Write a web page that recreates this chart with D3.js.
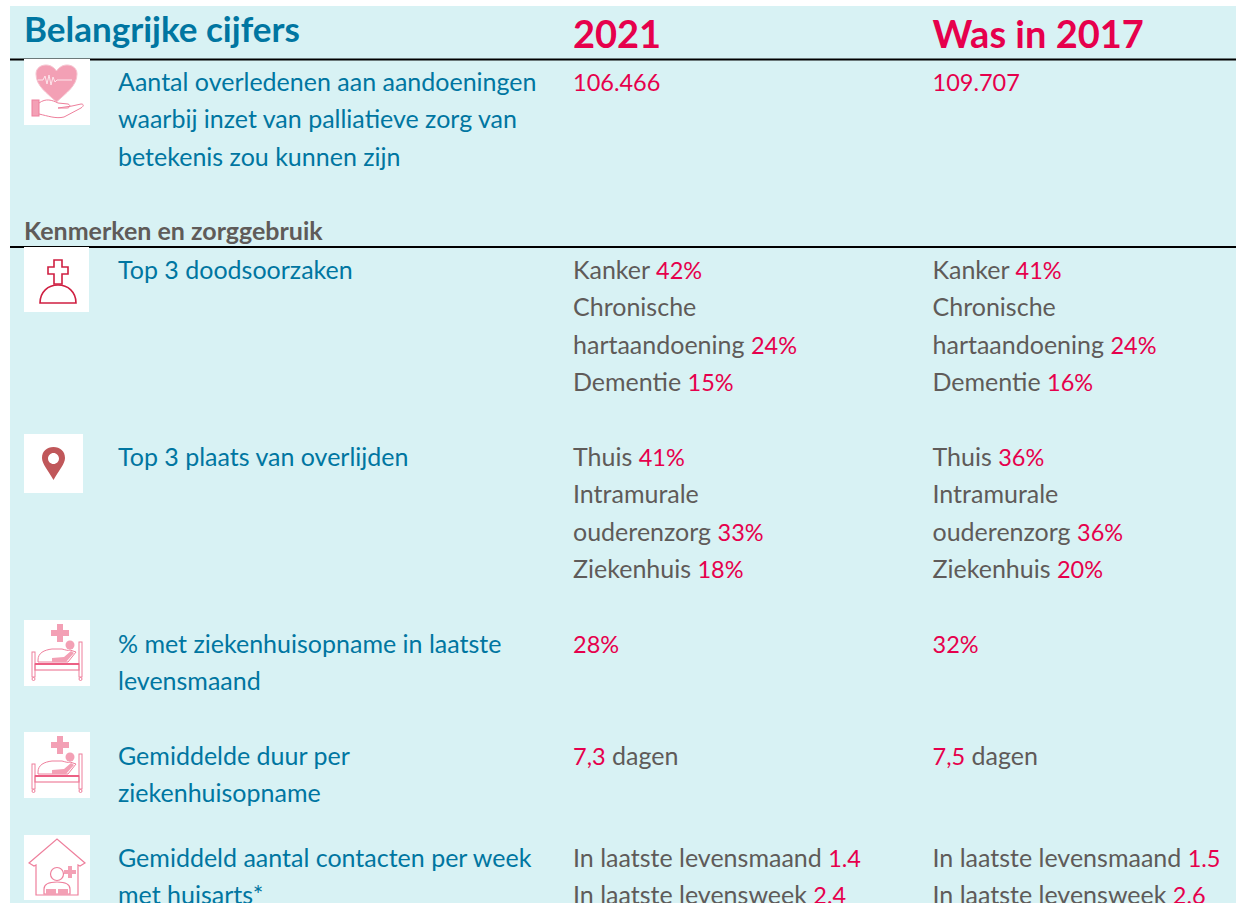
<!DOCTYPE html>
<meta charset="utf-8">
<style>
html, body { margin: 0; padding: 0; background: #fff; overflow: hidden; }
svg { display: block; }
text { font-family: Lato, "Open Sans", sans-serif; font-kerning: normal; }
</style>
<svg></svg>
<script src="https://cdn.jsdelivr.net/npm/d3@7"></script>
<script>

var width = 1236,
    height = 903;

var headers = ["Belangrijke cijfers", "2021", "Was in 2017"];
var subHeader = "Kenmerken en zorggebruik";

var rowLabels = [
  ["Aantal overledenen aan aandoeningen", "waarbij inzet van palliatieve zorg van", "betekenis zou kunnen zijn"],
  ["Top 3 doodsoorzaken"],
  ["Top 3 plaats van overlijden"],
  ["% met ziekenhuisopname in laatste", "levensmaand"],
  ["Gemiddelde duur per", "ziekenhuisopname"],
  ["Gemiddeld aantal contacten per week", "met huisarts*"]
];

// every line is a list of pieces: even pieces are grey, odd pieces are red
var values2021 = [
  [["", "106.466"]],
  [["Kanker ", "42%"], ["Chronische"], ["hartaandoening ", "24%"], ["Dementie ", "15%"]],
  [["Thuis ", "41%"], ["Intramurale"], ["ouderenzorg ", "33%"], ["Ziekenhuis ", "18%"]],
  [["", "28%"]],
  [["", "7,3", " dagen"]],
  [["In laatste levensmaand ", "1.4"], ["In laatste levensweek ", "2.4"]]
];

var values2017 = [
  [["", "109.707"]],
  [["Kanker ", "41%"], ["Chronische"], ["hartaandoening ", "24%"], ["Dementie ", "16%"]],
  [["Thuis ", "36%"], ["Intramurale"], ["ouderenzorg ", "36%"], ["Ziekenhuis ", "20%"]],
  [["", "32%"]],
  [["", "7,5", " dagen"]],
  [["In laatste levensmaand ", "1.5"], ["In laatste levensweek ", "2.6"]]
];

var iconNames = ["heart", "grave", "pin", "bed", "bed", "home"];

// layout
var rowBaselines = [91, 279, 466, 653, 765, 867];
var iconBoxes = [[24, 59, 66, 66], [24, 247, 65, 65], [24, 434, 59, 59], [24, 620, 66, 66], [24, 732, 66, 66], [24, 835, 66, 65]];
var lineStep = 37.3;
var colX = { label: 118, y2021: 573, y2017: 932.5 };

var teal = "#0076a1",
    red = "#e6004c",
    grey = "#5f5b59",
    panel = "#d8f2f4";

var lineY = d3.scaleLinear().domain([0, 1]).range([0, lineStep]);

var svg = d3.select("svg")
    .attr("width", width)
    .attr("height", height);

svg.append("rect")
    .attr("x", 10).attr("y", 6)
    .attr("width", width - 10).attr("height", height - 6)
    .attr("fill", panel);

// header
svg.selectAll("text.head")
    .data(headers)
    .enter().append("text")
    .attr("class", "head")
    .attr("x", function(d, i) { return [24, colX.y2021, colX.y2017][i]; })
    .attr("y", function(d, i) { return i ? 48 : 42; })
    .attr("font-weight", 700)
    .attr("font-size", function(d, i) { return i ? 38 : 35; })
    .attr("fill", function(d, i) { return i ? red : teal; })
    .text(function(d) { return d; });

svg.append("text")
    .attr("x", 24).attr("y", 240)
    .attr("font-weight", 700)
    .attr("font-size", 25)
    .attr("fill", grey)
    .text(subHeader);

svg.selectAll("line.rule")
    .data([59.5, 247])
    .enter().append("line")
    .attr("class", "rule")
    .attr("x1", 10).attr("x2", width)
    .attr("y1", function(d) { return d; })
    .attr("y2", function(d) { return d; })
    .attr("stroke", "#000")
    .attr("stroke-width", 1.8);

// row labels
var labels = svg.append("g").selectAll("g")
    .data(rowLabels)
    .enter().append("g")
    .attr("transform", function(d, i) { return "translate(" + colX.label + "," + rowBaselines[i] + ")"; });

labels.selectAll("text")
    .data(function(d) { return d; })
    .enter().append("text")
    .attr("y", function(d, i) { return lineY(i); })
    .attr("font-size", 25)
    .attr("fill", teal)
    .text(function(d) { return d; });

// value columns
function drawColumn(values, x) {
  var rows = svg.append("g").selectAll("g")
      .data(values)
      .enter().append("g")
      .attr("transform", function(d, i) { return "translate(" + x + "," + rowBaselines[i] + ")"; });

  rows.selectAll("text")
      .data(function(d) { return d; })
      .enter().append("text")
      .attr("y", function(d, i) { return lineY(i); })
      .attr("font-size", 25)
      .attr("xml:space", "preserve")
      .style("white-space", "pre")
      .selectAll("tspan")
      .data(function(d) { return d; })
      .enter().append("tspan")
      .attr("fill", function(d, i) { return i % 2 ? red : grey; })
      .attr("font-size", function(d, i) { return i % 2 ? 23.5 : 25; })
      .text(function(d) { return d; });
}

drawColumn(values2021, colX.y2021);
drawColumn(values2017, colX.y2017);

// icons, drawn on a 66 by 66 grid
var pink = "#ee7f9c",
    pinkFill = "#f3a0b5",
    deep = "#cf1f41",
    pinRed = "#c0575a";

var iconDraw = {
  heart: function(g) {
    g.append("path").attr("d", "M32.5 43C23 34 12 27 12 15C12 9 17 6 22 6C27 6 30.5 9 32.5 12C34.5 9 38 6 43 6C48 6 53 9 53 15C53 27 42 34 32.5 43Z")
        .attr("fill", pinkFill).attr("stroke", "#f6c4d0").attr("stroke-width", 1);
    g.append("polyline").attr("points", "14,21 19,21 21,17 23,25 25,16 27,26 29,18 31,23 33,21 48,21")
        .attr("fill", "none").attr("stroke", "#fde6ec").attr("stroke-width", 1);
    g.append("rect").attr("x", 8).attr("y", 41).attr("width", 7).attr("height", 16)
        .attr("fill", pinkFill).attr("stroke", pink);
    g.append("path").attr("d", "M15 44C22 39 28 41 34 44L44 45C47 46 46 49 43 49L34 49L48 47L57 45C60 45 60 47 57 49L40 58C32 60 24 57 15 55")
        .attr("fill", "none").attr("stroke", pink).attr("stroke-width", 1);
  },
  grave: function(g) {
    g.append("path").attr("d", "M30 13H38V20H44V27H38V37H30V27H24V20H30Z")
        .attr("fill", "none").attr("stroke", deep).attr("stroke-width", 1.6);
    g.append("path").attr("d", "M16 56C16 45 24 38 34 38C44 38 52 45 52 56Z")
        .attr("fill", "none").attr("stroke", deep).attr("stroke-width", 1.6);
  },
  pin: function(g) {
    g.append("path").attr("fill-rule", "evenodd")
        .attr("d", "M29.5 46C24 36 18 30 18 24C18 17 23 13 29.5 13C36 13 41 17 41 24C41 30 35 36 29.5 46ZM29.5 19C26.5 19 24 21.5 24 24.5C24 27.5 26.5 30 29.5 30C32.5 30 35 27.5 35 24.5C35 21.5 32.5 19 29.5 19Z")
        .attr("fill", pinRed);
  },
  bed: function(g) {
    g.append("path").attr("d", "M27 10H33V4H39V10H45V16H39V22H33V16H27Z").attr("fill", pinkFill);
    g.append("circle").attr("cx", 46).attr("cy", 25).attr("r", 4.5).attr("fill", pinkFill);
    g.append("path").attr("d", "M14 40C14 33 20 30 28 29L38 29C42 30 44 31 46 30L52 32L44 42H14Z")
        .attr("fill", "none").attr("stroke", pink).attr("stroke-width", 1);
    g.append("path").attr("d", "M28 38L40 37L47 31L50 33L42 42L28 42Z").attr("fill", pinkFill);
    g.append("rect").attr("x", 8).attr("y", 32).attr("width", 3).attr("height", 25)
        .attr("fill", "none").attr("stroke", pink).attr("stroke-width", 1);
    g.append("rect").attr("x", 55).attr("y", 22).attr("width", 3).attr("height", 35)
        .attr("fill", "none").attr("stroke", pink).attr("stroke-width", 1);
    g.append("rect").attr("x", 11).attr("y", 44).attr("width", 44).attr("height", 6)
        .attr("fill", "none").attr("stroke", pink).attr("stroke-width", 1.2);
    g.append("line").attr("x1", 11).attr("x2", 55).attr("y1", 44).attr("y2", 44)
        .attr("stroke", "#ec5f84").attr("stroke-width", 1.8);
    g.selectAll("circle.foot").data([9.5, 56.5]).enter().append("circle")
        .attr("class", "foot")
        .attr("cx", function(d) { return d; }).attr("cy", 59).attr("r", 1.5)
        .attr("fill", "none").attr("stroke", pink);
  },
  home: function(g) {
    g.append("path").attr("d", "M5 28L33 4L61 28L56 31L54 30V60H12V30L10 31Z")
        .attr("fill", "none").attr("stroke", pink).attr("stroke-width", 1.2);
    g.append("circle").attr("cx", 33).attr("cy", 39).attr("r", 6.5)
        .attr("fill", "none").attr("stroke", pink).attr("stroke-width", 1.2);
    g.append("path").attr("d", "M20 59V54C20 49 26 47 33 47C40 47 46 49 46 54V59Z")
        .attr("fill", "none").attr("stroke", pink).attr("stroke-width", 1.2);
    g.append("path").attr("d", "M22 59V54H32V59ZM34 59V54H44V59Z").attr("fill", pinkFill);
    g.append("path").attr("d", "M44 35H40V39H44V43H48V39H52V35H48V31H44Z").attr("fill", pinkFill);
  }
};

var icons = svg.append("g").selectAll("g")
    .data(iconNames)
    .enter().append("g")
    .attr("transform", function(d, i) { return "translate(" + iconBoxes[i][0] + "," + iconBoxes[i][1] + ")"; });

icons.append("rect")
    .attr("width", function(d, i) { return iconBoxes[i][2]; })
    .attr("height", function(d, i) { return iconBoxes[i][3]; })
    .attr("fill", "#fff");

icons.each(function(d) { iconDraw[d](d3.select(this)); });

</script>
